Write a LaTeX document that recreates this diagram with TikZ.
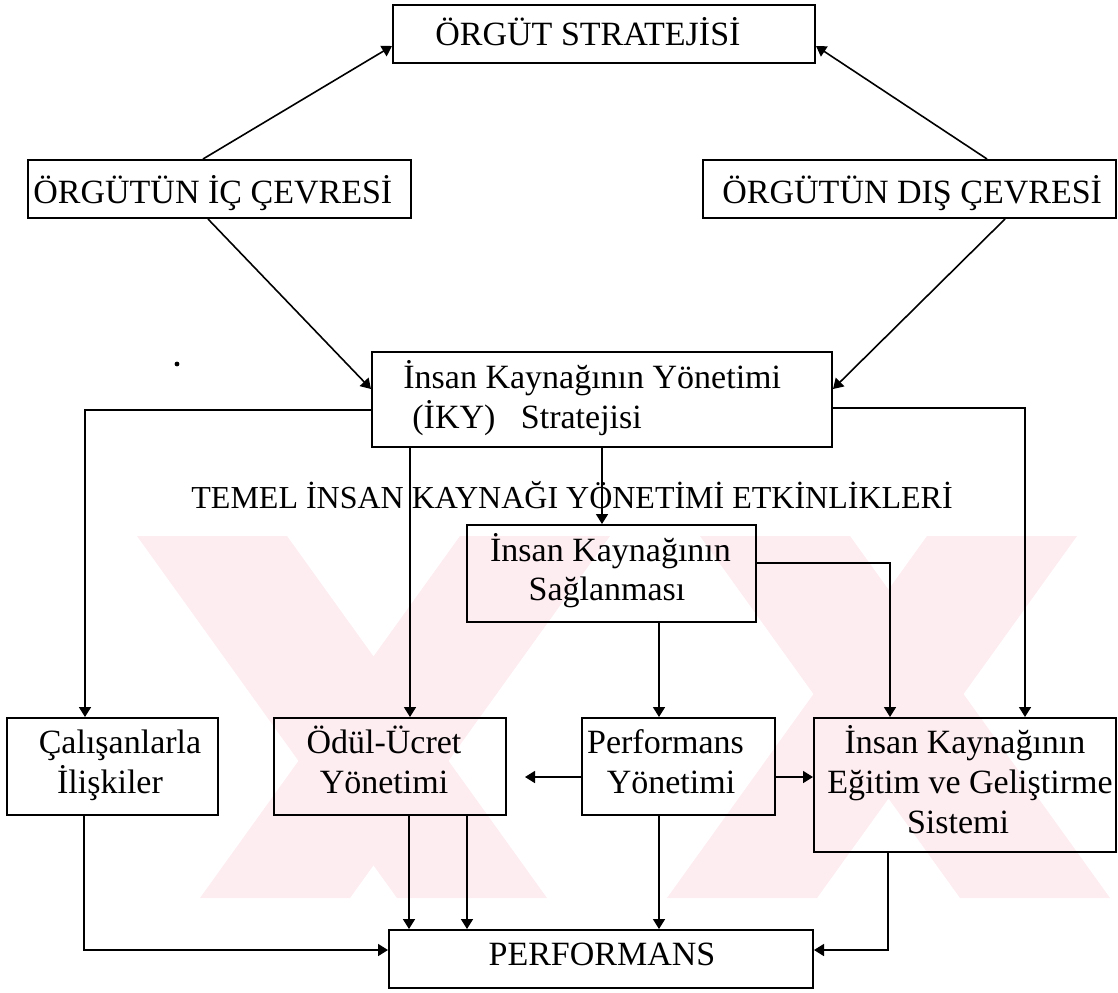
\documentclass[tikz,border=0pt]{standalone}
\usepackage{fontspec}
\setmainfont{Liberation Serif}
\usetikzlibrary{arrows.meta}
\definecolor{wmark}{RGB}{253,236,240}

\begin{document}
\begin{tikzpicture}[x=0.5pt,y=-0.5pt,
  box/.style={draw, line width=1pt, inner sep=0pt},
  txt/.style={inner sep=0pt, anchor=base west, font=\fontsize{17}{20}\selectfont},
  ctxt/.style={inner sep=0pt, anchor=base, font=\fontsize{17}{20}\selectfont},
  link/.style={line width=0.8pt, -{Triangle[length=5pt,width=6pt]}},
]
\useasboundingbox (0,0) rectangle (1118,992);

% faint background mark
\begin{scope}
  \fill[wmark] (137,536) -- (287,536) -- (547,898) -- (397,898) -- cycle;
  \fill[wmark] (460,536) -- (610,536) -- (350,898) -- (200,898) -- cycle;
  \fill[wmark] (927,536) -- (1077,536) -- (817,898) -- (667,898) -- cycle;
  \fill[wmark] (700,536) -- (850,536) -- (1110,898) -- (960,898) -- cycle;
\end{scope}

% boxes
\node[box, minimum width=211pt, minimum height=29pt] (top) at (604,34) {};
\node[box, minimum width=191.5pt, minimum height=29pt] (ic) at (219.5,189) {};
\node[box, minimum width=206.5pt, minimum height=29pt] (dis) at (909.5,189) {};
\node[box, minimum width=230pt, minimum height=47.5pt] (iky) at (602,399.5) {};
\node[box, minimum width=144.5pt, minimum height=48.5pt] (sag) at (611.5,573.5) {};
\node[box, minimum width=105.5pt, minimum height=48.5pt] (cal) at (112.5,766.5) {};
\node[box, minimum width=116pt, minimum height=48.5pt] (odul) at (390,766.5) {};
\node[box, minimum width=96.5pt, minimum height=48.5pt] (perf) at (678.5,766.5) {};
\node[box, minimum width=151pt, minimum height=67pt] (egit) at (965,785) {};
\node[box, minimum width=212pt, minimum height=29pt] (perfb) at (601,959) {};

% texts
\node[txt] (topT) at (435,45) {ÖRGÜT STRATEJİSİ};
\node[txt] (icT) at (33,203) {ÖRGÜTÜN İÇ ÇEVRESİ};
\node[txt] (disT) at (722,203) {ÖRGÜTÜN DIŞ ÇEVRESİ};
\node[txt] (ikyA) at (403,388) {İnsan Kaynağının Yönetimi};
\node[txt] (ikyB) at (412,428) {(İKY)\ \ \ Stratejisi};
\node[txt, font=\fontsize{16}{19}\selectfont] (temel) at (191,508) {TEMEL İNSAN KAYNAĞI YÖNETİMİ ETKİNLİKLERİ};
\node[ctxt] (sagA) at (610.5,561) {İnsan Kaynağının};
\node[ctxt] (sagB) at (607,600) {Sağlanması};
\node[ctxt] (calA) at (120,753) {Çalışanlarla};
\node[ctxt] (calB) at (110,793) {İlişkiler};
\node[ctxt] (odulA) at (384,753) {Ödül-Ücret};
\node[ctxt] (odulB) at (384,793) {Yönetimi};
\node[ctxt] (perfA) at (665.5,753) {Performans};
\node[ctxt] (perfB) at (671,793) {Yönetimi};
\node[ctxt] (egitA) at (965,753) {İnsan Kaynağının};
\node[ctxt] (egitB) at (970,793) {Eğitim ve Geliştirme};
\node[ctxt] (egitC) at (958,833) {Sistemi};
\node[ctxt] (perfbT) at (602,965) {PERFORMANS};

% stray speck
\fill (177,364) circle (1.2pt);

% connectors
\coordinate (odulTip) at (525,777);
\draw[link] ([xshift=-8.25pt]ic.north) -- ([yshift=-6pt]top.west);
\draw[link] ([xshift=38.75pt]dis.north) -- ([yshift=-6pt]top.east);
\draw[link] ([xshift=-5.75pt]ic.south) -- ([yshift=5.25pt]iky.west);
\draw[link] ([xshift=47.75pt]dis.south) -- ([yshift=5.25pt]iky.east);
\draw[link] ([yshift=-5.25pt]iky.west) -| ([xshift=-13.75pt]cal.north);
\draw[link] ([xshift=-96pt]iky.south) -- ([xshift=10pt]odul.north);
\draw[link] (iky.south) -- ([xshift=-4.75pt]sag.north);
\draw[link] ([yshift=-4.25pt]iky.east) -| ([xshift=30pt]egit.north);
\draw[link] ([yshift=5.25pt]sag.east) -| ([xshift=-37.5pt]egit.north);
\draw[link] ([xshift=23.75pt]sag.south) -- ([xshift=-9.75pt]perf.north);
\draw[link] ([yshift=-5.25pt]perf.west) -- (odulTip);
\draw[link] ([yshift=-5.25pt]perf.east) -- ([yshift=4pt]egit.west);
\draw[link] ([xshift=-14.25pt]cal.south) |- ([yshift=4.5pt]perfb.west);
\draw[link] ([xshift=9.5pt]odul.south) -- ([xshift=-96pt]perfb.north);
\draw[link] ([xshift=38.5pt]odul.south) -- ([xshift=-67pt]perfb.north);
\draw[link] ([xshift=-9.75pt]perf.south) -- ([xshift=29pt]perfb.north);
\draw[link] ([xshift=-38.5pt]egit.south) |- ([yshift=4.5pt]perfb.east);
\end{tikzpicture}
\end{document}
